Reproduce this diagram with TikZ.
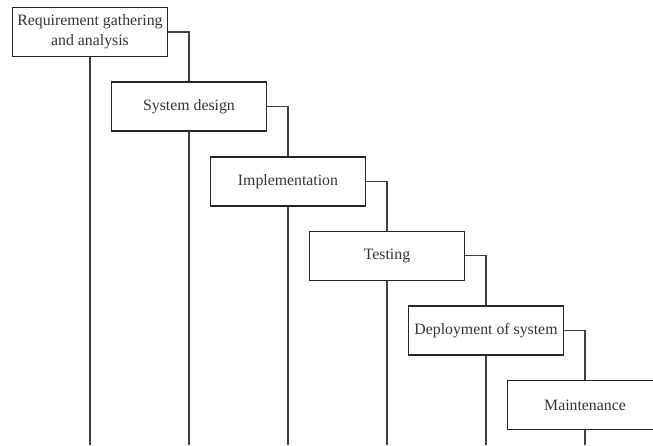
\documentclass[tikz,border=0pt]{standalone}
\usepackage{fontspec}
\setmainfont{Liberation Serif}
\usetikzlibrary{positioning}
\tikzset{
  stage/.style = {draw=black!85, line width=1.6pt, rectangle, align=center,
    minimum width=155pt, minimum height=49pt, inner sep=1pt,
    text=black!80, font=\fontsize{15.8}{20}\selectfont},
  link/.style = {black!75, line width=1.3pt},
}

\begin{document}
\begin{tikzpicture}[x=1pt, y=-1pt, node distance=24pt]
\useasboundingbox (0,0) rectangle (653,445);
\clip (0,0) rectangle (653,445);
\coordinate (base) at (0,445);

\node [stage] (req) at (90,32) {Requirement gathering\\and analysis};
\node [stage, below=of req, xshift=99pt] (design) {System design};
\node [stage, below=of design, xshift=99pt] (impl) {Implementation};
\node [stage, below=of impl, xshift=99pt] (test) {Testing};
\node [stage, below=of test, xshift=99pt] (deploy) {Deployment of system};
\node [stage, below=of deploy, xshift=99pt] (maint) {Maintenance};

% steps down the cascade
\draw [link] (req.east) -| (design.north);
\draw [link] (design.east) -| (impl.north);
\draw [link] (impl.east) -| (test.north);
\draw [link] (test.east) -| (deploy.north);
\draw [link] (deploy.east) -| (maint.north);

% drops to the bottom edge
\draw [link] (req.south) -- (req.south |- base);
\draw [link] (design.south) -- (design.south |- base);
\draw [link] (impl.south) -- (impl.south |- base);
\draw [link] (test.south) -- (test.south |- base);
\draw [link] (deploy.south) -- (deploy.south |- base);
\draw [link] (maint.south) -- (maint.south |- base);
\end{tikzpicture}
\end{document}
